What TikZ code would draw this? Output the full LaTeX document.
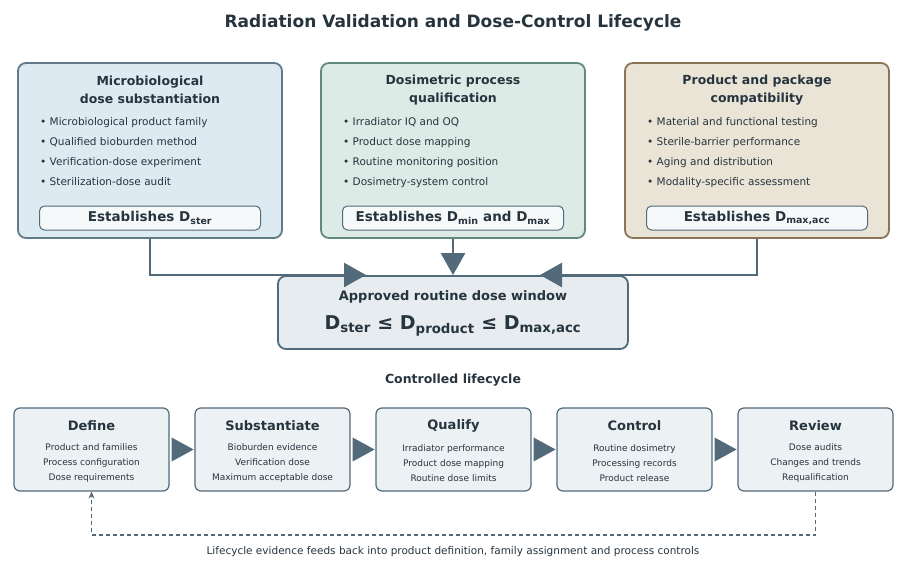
\documentclass[tikz,border=0pt]{standalone}
\usepackage{fontspec}
\setmainfont{DejaVu Sans}
\usetikzlibrary{calc}
\usetikzlibrary{arrows.meta}
\usetikzlibrary{positioning}
\definecolor{ink}{RGB}{38, 52, 62}
\definecolor{slate}{RGB}{82, 106, 122}
\definecolor{mbfill}{RGB}{222, 234, 241}
\definecolor{mbline}{RGB}{96, 122, 138}
\definecolor{dsfill}{RGB}{221, 235, 231}
\definecolor{dsline}{RGB}{98, 138, 124}
\definecolor{pcfill}{RGB}{234, 228, 214}
\definecolor{pcline}{RGB}{140, 116, 88}
\definecolor{keyfill}{RGB}{246, 249, 250}
\definecolor{winfill}{RGB}{230, 236, 240}
\definecolor{stgfill}{RGB}{236, 241, 244}
\tikzset{
  panel/.style={draw, line width=1.8pt, rounded corners=8pt},
  keybox/.style={draw=slate, fill=keyfill, line width=1pt, rounded corners=5pt, minimum width=221pt, minimum height=24pt, font=\bfseries\fontsize{13.5}{15}\selectfont, text=ink, inner sep=0pt},
  head/.style={font=\bfseries\fontsize{12.5}{18}\selectfont, text=ink, align=center},
  item/.style={font=\fontsize{10.5}{20}\selectfont, text=ink, align=left, anchor=north west, inner sep=0pt},
  stage/.style={draw=slate, fill=stgfill, line width=1.2pt, rounded corners=6pt, minimum width=155pt, minimum height=83pt},
  stghead/.style={font=\bfseries\fontsize{13}{15}\selectfont, text=ink},
  stgtext/.style={font=\fontsize{9}{15}\selectfont, text=ink, align=center},
  flow/.style={draw=slate, line width=2.6pt, -{Triangle[length=22pt, width=24pt]}},
  nexttip/.style={fill=slate},
}
\begin{document}
\begin{tikzpicture}[x=1pt, y=-1pt]
  \useasboundingbox (0,0) rectangle (900,567);
  \node[font=\bfseries\fontsize{17}{20}\selectfont, text=ink] (title) at (453,23) {Radiation Validation and Dose-Control Lifecycle};

  % validation panels
  \draw[panel, draw=mbline, fill=mbfill] (18,63) rectangle (282,238);
  \node[head] (mbh) at (150,90) {Microbiological\\dose substantiation};
  \node[item] (mbi) at (40,117) {• Microbiological product family\\• Qualified bioburden method\\• Verification-dose experiment\\• Sterilization-dose audit};
  \node[keybox] (mbk) at (150,218) {Establishes D\textsubscript{ster}};

  \draw[panel, draw=dsline, fill=dsfill] (321,63) rectangle (585,238);
  \node[head] (dsh) at (453,90) {Dosimetric process\\qualification};
  \node[item] (dsi) at (343,117) {• Irradiator IQ and OQ\\• Product dose mapping\\• Routine monitoring position\\• Dosimetry-system control};
  \node[keybox, minimum width=221pt] (dsk) at (453,218) {Establishes D\textsubscript{min} and D\textsubscript{max}};

  \draw[panel, draw=pcline, fill=pcfill] (625,63) rectangle (889,238);
  \node[head] (pch) at (757,90) {Product and package\\compatibility};
  \node[item] (pci) at (647,117) {• Material and functional testing\\• Sterile-barrier performance\\• Aging and distribution\\• Modality-specific assessment};
  \node[keybox] (pck) at (757,218) {Establishes D\textsubscript{max,acc}};

  % dose window
  \node[draw=slate, fill=winfill, line width=1.8pt, rounded corners=8pt, minimum width=350pt, minimum height=73pt] (win) at (453,312.5) {};
  \node[font=\bfseries\fontsize{13}{15}\selectfont, text=ink] (winh) at (453,297) {Approved routine dose window};
  \node[font=\bfseries\fontsize{19}{22}\selectfont, text=ink] (winf) at (453,326) {D\textsubscript{ster} ≤ D\textsubscript{product} ≤ D\textsubscript{max,acc}};

  \coordinate (jl) at (150,275);
  \coordinate (jr) at (757,275);
  \draw[flow] (150,239) -- (jl) -- (366,275);
  \draw[flow] (453,239) -- (win.north);
  \draw[flow] (757,239) -- (jr) -- (540,275);

  % lifecycle
  \node[font=\bfseries\fontsize{12.5}{15}\selectfont, text=ink] (lc) at (453,380) {Controlled lifecycle};
  \foreach \n/\x/\t/\a/\b/\c in {
      def/91.5/Define/Product and families/Process configuration/Dose requirements,
      sub/272.5/Substantiate/Bioburden evidence/Verification dose/Maximum acceptable dose,
      qua/453.5/Qualify/Irradiator performance/Product dose mapping/Routine dose limits,
      con/634.5/Control/Routine dosimetry/Processing records/Product release,
      rev/815.5/Review/Dose audits/Changes and trends/Requalification} {
    \node[stage] (\n) at (\x,449.5) {};
    \node[stghead] at (\x,426) {\t};
    \node[stgtext] at (\x,463) {\a\\\b\\\c};
  }
  \foreach \p/\q in {def/sub, sub/qua, qua/con, con/rev}
    \fill[nexttip] ($(\p.east)+(2,-12)$) -- ($(\p.east)+(24,0)$) -- ($(\p.east)+(2,12)$) -- cycle;

  % feedback
  \coordinate (fbr) at (815.5,535);
  \coordinate (fbl) at (91.5,535);
  \draw[slate, line width=1.2pt, dash pattern=on 4pt off 3pt, -{Stealth[length=7pt, width=6pt, open]}] (rev.south) -- (fbr) -- (fbl) -- (def.south);
  \node[font=\fontsize{10.5}{12}\selectfont, text=ink] (fbt) at (453,552) {Lifecycle evidence feeds back into product definition, family assignment and process controls};
\end{tikzpicture}
\end{document}
